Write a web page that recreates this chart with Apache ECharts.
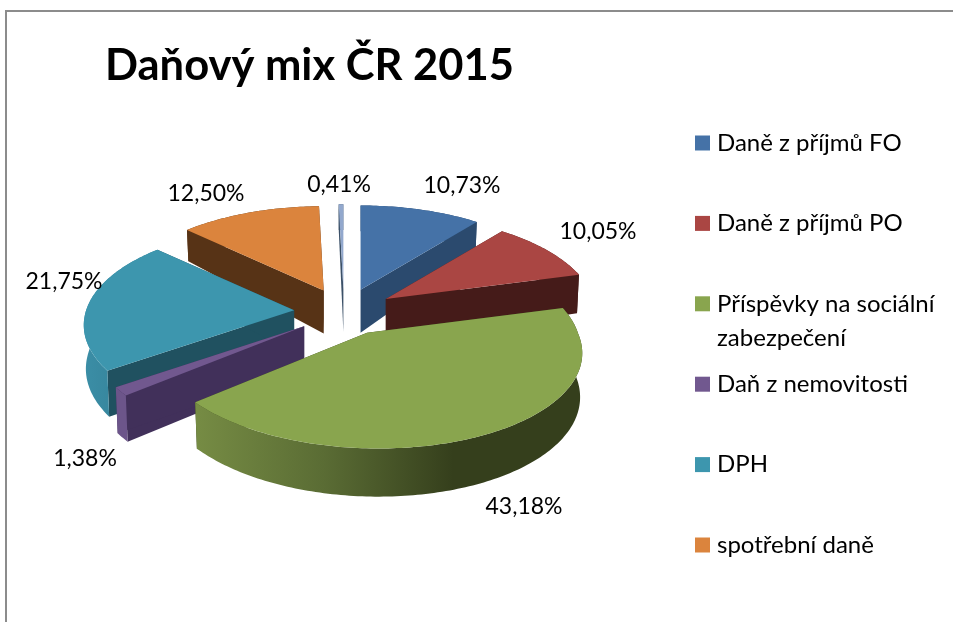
<!DOCTYPE html>
<html>
<head>
<meta charset="utf-8">
<style>
  html, body { margin: 0; padding: 0; background: #fff; }
  #chart { width: 953px; height: 622px; }
</style>
<script src="https://cdn.jsdelivr.net/npm/echarts@6/dist/echarts.min.js"></script>
</head>
<body>
<div id="chart"></div>
<script>
// data
const categories = ["Daně z příjmů FO", "Daně z příjmů PO", "Příspěvky na sociální", "Daň z nemovitosti", "DPH", "spotřební daně", ""];
const shares = [10.73, 10.05, 43.18, 1.38, 21.75, 12.5, 0.41];

// barvy: horní plocha, řez, vnější stěna (zleva doprava)
const topColors = ["#4572a7", "#aa4643", "#89a54e", "#71588f", "#3d96ae", "#db843d", "#92a8cd"];
const cutColors = ["#2b4a6e", "#451b19", "#353f1c", "#41305a", "#205160", "#573316", "#3c5168"];
const wallColors = [
  ["#2b4a6e", "#2b4a6e"],
  ["#451b19", "#451b19"],
  ["#768c44", "#5a6c34", "#353f1c", "#353f1c"],
  ["#6c558a", "#6c558a"],
  ["#3b8ea6", "#317b91"],
  ["#573316", "#573316"],
  ["#3c5168", "#3c5168"],
];
const labelPositions = [[462, 186], [598, 232], [524, 507], [85, 459], [64, 282], [206, 194], [339, 185]];

const chart = echarts.init(document.getElementById("chart"));
const rad = (deg) => (deg * Math.PI) / 180;

// projekce 3D koláče
const center = [344, 312];
const explode = [50, 23.5];
const radiusX = 208;
const radiusY = 97;

function wallHeight(y) {
  return y > 0 ? 43 * (1 - 0.4 * y) : 43 * (1 - 0.12 * y);
}

function projector(midDeg) {
  const forward = Math.max(0, -Math.cos(rad(midDeg)));
  const ax = center[0] + explode[0] * Math.sin(rad(midDeg));
  const ay = center[1] - explode[1] * Math.cos(rad(midDeg));
  const boost = 1 + 0.015 * forward;
  const shear = 40 * Math.max(0, forward - 0.6);
  const at = (deg, low) => {
    const x = Math.sin(rad(deg));
    const y = Math.cos(rad(deg));
    const p = boost / (1 + 0.15 * y);
    const dx = radiusX * x * p + shear * Math.max(0, -y);
    const sy = ay - radiusY * y * p;
    return low ? [ax + dx * 0.99, sy + wallHeight(y)] : [ax + dx, sy];
  };
  return { apex: [ax, ay], at };
}

function arcPoints(at, from, to, low) {
  const pts = [];
  for (let d = from; d < to; d += 1) pts.push(at(d, low));
  pts.push(at(to, low));
  return pts;
}

const total = shares.reduce((a, b) => a + b, 0);
let running = 0;
const slices = shares.map((value, i) => {
  const from = (running / total) * 360;
  running += value;
  const to = (running / total) * 360;
  return { i, value, from, to, mid: (from + to) / 2 };
});

function renderSlice(slice) {
  const { i, from, to, mid, value } = slice;
  const { apex, at } = projector(mid);
  const apexLow = [apex[0], apex[1] + wallHeight(0)];
  const cut = (deg) => ({
    type: "polygon",
    shape: { points: [apex, at(deg), at(deg, true), apexLow] },
    style: { fill: cutColors[i] },
  });
  const stops = wallColors[i].map((color, k, list) => ({ offset: k / (list.length - 1), color }));
  const wall = {
    type: "polygon",
    shape: { points: arcPoints(at, from, to).concat(arcPoints(at, from, to, true).reverse()) },
    style: { fill: new echarts.graphic.LinearGradient(0, 0, 1, 0, stops) },
  };
  const top = {
    type: "polygon",
    shape: { points: [apex].concat(arcPoints(at, from, to)) },
    style: { fill: topColors[i] },
  };
  const label = {
    type: "text",
    z2: 10,
    style: {
      x: labelPositions[i][0],
      y: labelPositions[i][1],
      text: value.toFixed(2).replace(".", ",") + "%",
      align: "center",
      verticalAlign: "middle",
      font: "23px Lato",
      fill: "#000",
    },
  };
  return { type: "group", children: [cut(from), cut(to), wall, top, label] };
}

// vzadu kreslit první
const series = slices
  .slice()
  .sort((a, b) => Math.cos(rad(b.mid)) - Math.cos(rad(a.mid)))
  .map((slice) => ({
    type: "custom",
    name: categories[slice.i],
    coordinateSystem: "none",
    silent: true,
    itemStyle: { color: topColors[slice.i] },
    data: [[slice.value]],
    renderItem: () => renderSlice(slice),
  }));

chart.setOption({
  animation: false,
  title: {
    text: "Daňový mix ČR 2015",
    left: 100,
    top: 39,
    textStyle: { fontFamily: "Lato", fontWeight: "bold", fontSize: 43.5, color: "#000" },
  },
  legend: {
    orient: "vertical",
    left: 690,
    top: 126,
    icon: "rect",
    itemWidth: 15,
    itemHeight: 15,
    itemGap: 56.4,
    selectedMode: false,
    data: categories.slice(0, 6),
    textStyle: { fontFamily: "Lato", fontSize: 24, color: "#000", padding: [0, 0, 0, 2] },
  },
  graphic: [
    {
      type: "rect",
      silent: true,
      shape: { x: 6, y: 11, width: 1200, height: 900 },
      style: { fill: "none", stroke: "#8c8c8c", lineWidth: 2 },
    },
    {
      type: "text",
      silent: true,
      style: { x: 717, y: 338, text: "zabezpečení", verticalAlign: "middle", font: "24px Lato", fill: "#000" },
    },
  ],
  series,
});
</script>
</body>
</html>
